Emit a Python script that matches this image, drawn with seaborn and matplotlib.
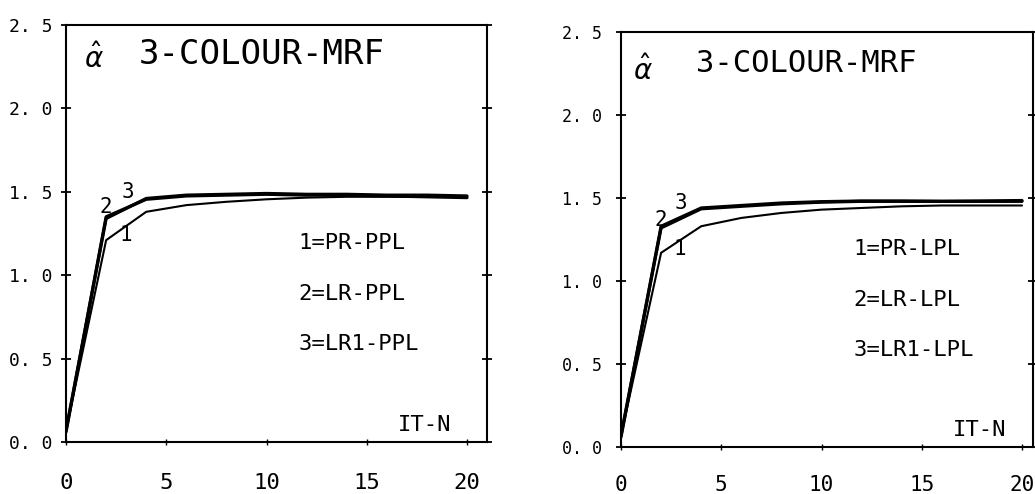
import numpy as np
import pandas as pd
import matplotlib
matplotlib.use("Agg")
import matplotlib.pyplot as plt
import seaborn as sns

# ---- data ----
iterations = [0, 2, 4, 6, 8, 10, 12, 14, 16, 18, 20]

left_pr_ppl = [0.07, 1.21, 1.38, 1.42, 1.44, 1.455, 1.465, 1.47, 1.47, 1.47, 1.47]
left_lr_ppl = [0.07, 1.34, 1.46, 1.48, 1.485, 1.49, 1.485, 1.485, 1.48, 1.48, 1.475]
left_lr1_ppl = [0.06, 1.35, 1.455, 1.475, 1.48, 1.485, 1.48, 1.48, 1.475, 1.47, 1.465]

right_pr_lpl = [0.07, 1.17, 1.33, 1.38, 1.41, 1.43, 1.44, 1.45, 1.455, 1.455, 1.455]
right_lr_lpl = [0.07, 1.32, 1.435, 1.45, 1.465, 1.475, 1.48, 1.48, 1.48, 1.48, 1.48]
right_lr1_lpl = [0.06, 1.33, 1.44, 1.455, 1.47, 1.478, 1.482, 1.482, 1.48, 1.482, 1.485]

y_ticks = [0.0, 0.5, 1.0, 1.5, 2.0, 2.5]
y_tick_labels = ["0. 0", "0. 5", "1. 0", "1. 5", "2. 0", "2. 5"]
x_ticks = [0, 5, 10, 15, 20]
x_tick_labels = ["0", "5", "10", "15", "20"]

title = "3-COLOUR-MRF"
left_legend = ["1=PR-PPL", "2=LR-PPL", "3=LR1-PPL"]
right_legend = ["1=PR-LPL", "2=LR-LPL", "3=LR1-LPL"]
curve_ids = ["1", "2", "3"]
x_label = "IT-N"

# ---- style ----
sns.set_style("ticks")
plt.rcParams["font.family"] = ["DejaVu Sans Mono", "DejaVu Sans"]
plt.rcParams["mathtext.fontset"] = "dejavusans"
plt.rcParams["text.color"] = "black"
plt.rcParams["xtick.color"] = "black"
plt.rcParams["ytick.color"] = "black"
plt.rcParams["xtick.labelcolor"] = "black"
plt.rcParams["ytick.labelcolor"] = "black"

fig = plt.figure(figsize=(10.35, 4.94), dpi=100)
ax_l = fig.add_axes([0.0638, 0.1053, 0.4068, 0.8441])
ax_r = fig.add_axes([0.6000, 0.0951, 0.3981, 0.8401])


def draw_panel(ax, series, legend_texts, xmax, title_fs, title_xy, alpha_xy,
               label_pos, ytick_fs, xtick_fs, xpad, ypad):
    widths = [1.5, 2.3, 2.3]
    for name, vals, lw in zip(curve_ids, series, widths):
        df = pd.DataFrame({"it": iterations, "alpha": vals})
        sns.lineplot(data=df, x="it", y="alpha", ax=ax, color="black",
                     linewidth=lw, legend=False)
    ax.set_xlim(0, xmax)
    ax.set_ylim(0, 2.5)
    ax.set_xticks(x_ticks)
    ax.set_xticklabels(x_tick_labels, fontsize=xtick_fs)
    ax.set_yticks(y_ticks)
    ax.set_yticklabels(y_tick_labels, fontsize=ytick_fs)
    ax.set_xlabel("")
    ax.set_ylabel("")
    for sp in ax.spines.values():
        sp.set_visible(True)
        sp.set_linewidth(1.5)
        sp.set_color("black")
    ax.tick_params(axis="y", direction="inout", length=7, width=1.3,
                   right=True, pad=ypad)
    ax.tick_params(axis="x", direction="inout", length=4, width=1.0,
                   pad=xpad)
    ax.text(title_xy[0], title_xy[1], title, fontsize=title_fs,
            ha="center", va="center", color="black")
    ax.text(alpha_xy[0], alpha_xy[1], r"$\hat{\alpha}$", fontsize=20,
            ha="center", va="center", color="black")
    for txt, yy in zip(legend_texts, [1.19, 0.887, 0.587]):
        ax.text(11.6, yy, txt, fontsize=16, ha="left", va="center",
                color="black")
    ax.text(16.56, 0.10, x_label, fontsize=16, ha="left", va="center",
            color="black")
    for cid, (cx, cy) in zip(curve_ids, label_pos):
        ax.text(cx, cy, cid, fontsize=15, ha="center", va="center",
                color="black")


draw_panel(ax_l, [left_pr_ppl, left_lr_ppl, left_lr1_ppl], left_legend,
           21.0, 24.5, (9.78, 2.326), (1.4, 2.30),
           [(2.99, 1.24), (2.0, 1.41), (3.09, 1.50)], 13, 16, 20, 6)
draw_panel(ax_r, [right_pr_lpl, right_lr_lpl, right_lr1_lpl], right_legend,
           20.55, 22, (9.23, 2.313), (1.1, 2.27),
           [(2.94, 1.19), (2.0, 1.37), (3.0, 1.47)], 12, 15, 18, 10)

fig.savefig("out.png", dpi=100)
